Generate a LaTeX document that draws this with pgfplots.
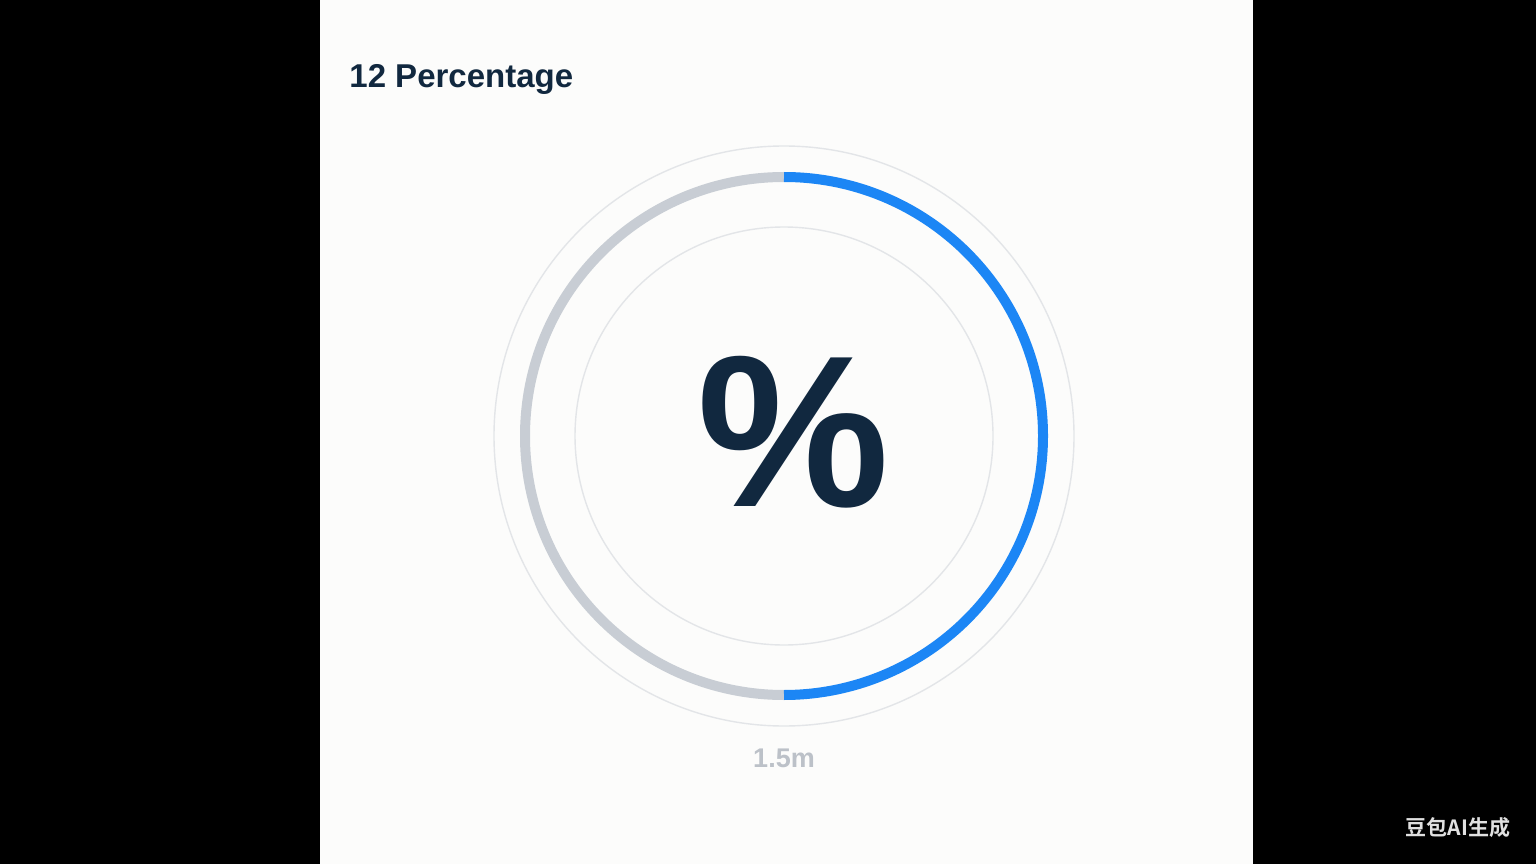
\documentclass[border=0pt]{standalone}
\usepackage{pgfplots}
\pgfplotsset{compat=1.18}
\usepackage{fontspec}
\setmainfont{Liberation Sans}
\newfontfamily\cjk{Noto Sans CJK SC}[BoldFont={* Bold}]
\definecolor{navy}{HTML}{11283F}
\definecolor{ringblue}{HTML}{1C86F5}
\definecolor{ringgray}{HTML}{C8CDD4}
\definecolor{guidegray}{HTML}{E3E5E8}
\definecolor{panel}{HTML}{FCFCFB}
\definecolor{subgray}{HTML}{BCC1C8}
% gauge value (percent filled in blue)
\def\pctvalue{50}
\begin{document}
\begin{tikzpicture}
\begin{axis}[
  scale only axis, width=768pt, height=432pt,
  xmin=0, xmax=1536, ymin=0, ymax=864,
  hide axis, clip=false,
]
% background and panel
\fill[black] (axis cs:0,0) rectangle (axis cs:1536,864);
\fill[panel] (axis cs:320,0) rectangle (axis cs:1253,864);
% thin guide circles
\draw[draw=guidegray, line width=0.7pt] (axis cs:784,428) circle[radius=290];
\draw[draw=guidegray, line width=0.7pt] (axis cs:784,428) circle[radius=209];
% ring: gray remainder then blue value
\pgfmathsetmacro{\endang}{90-3.6*\pctvalue}
\draw[ringgray, line width=5pt] (axis cs:784,687) arc[start angle=90, end angle=\endang+360, radius=259];
\draw[ringblue, line width=5pt] (axis cs:784,687) arc[start angle=90, end angle=\endang, radius=259];
% texts
\node[anchor=base west, inner sep=0, text=navy, font=\bfseries\fontsize{16.5}{18}\selectfont] at (axis cs:349,776) {12 Percentage};
\node[inner sep=0, text=navy, font=\bfseries\fontsize{108}{120}\selectfont] at (axis cs:794,432) {\%};
\node[inner sep=0, text=subgray, font=\bfseries\fontsize{13.5}{15}\selectfont] at (axis cs:784,106) {1.5m};
\node[inner sep=0, text=white!88!black, font=\cjk\bfseries\fontsize{10.5}{12}\selectfont] at (axis cs:1458,36) {豆包AI生成};
\end{axis}
\end{tikzpicture}
\end{document}
